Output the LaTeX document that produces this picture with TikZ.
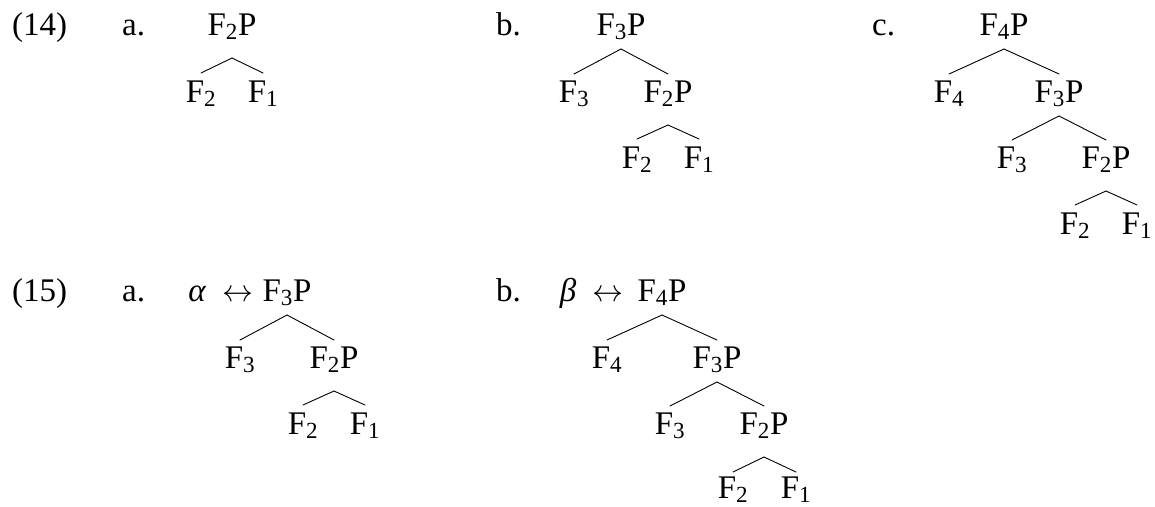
\documentclass[tikz,border=0pt]{standalone}
\usepackage{fontspec}
\setmainfont{Liberation Serif}
\usepackage{fix-cm}
\begin{document}
\begin{tikzpicture}[x=1pt,y=-1pt,
  tn/.style={inner sep=0pt, anchor=base, font=\fontsize{33}{40}\selectfont},
  lb/.style={inner sep=0pt, anchor=base west, font=\fontsize{33}{40}\selectfont},
  br/.style={line width=0.9pt, line cap=round}]
\useasboundingbox (0,0) rectangle (1155,506);
% ---------- (14)
\node[lb] (n14) at (12,35) {(14)};
\node[lb] (la) at (122,35) {a.};
\node[tn] (a0) at (232,35) {F\textsubscript{2}P};
\node[tn] (a1) at (201,102) {F\textsubscript{2}};
\node[tn] (a2) at (263,102) {F\textsubscript{1}};
\draw[br] ([yshift=-23pt]a0.base) -- ([yshift=29pt]a1.base);
\draw[br] ([yshift=-23pt]a0.base) -- ([yshift=29pt]a2.base);
% b
\node[lb] (lb1) at (496,35) {b.};
\node[tn] (b0) at (621,35) {F\textsubscript{3}P};
\node[tn] (b1) at (574,102) {F\textsubscript{3}};
\node[tn] (b2) at (668,102) {F\textsubscript{2}P};
\node[tn] (b3) at (637,168) {F\textsubscript{2}};
\node[tn] (b4) at (699,168) {F\textsubscript{1}};
\draw[br] ([yshift=-14pt]b0.base) -- ([yshift=28pt]b1.base);
\draw[br] ([yshift=-14pt]b0.base) -- ([yshift=28pt]b2.base);
\draw[br] ([yshift=-23pt]b2.base) -- ([yshift=29pt]b3.base);
\draw[br] ([yshift=-23pt]b2.base) -- ([yshift=29pt]b4.base);
% c
\node[lb] (lc) at (872,35) {c.};
\node[tn] (c0) at (1004,35) {F\textsubscript{4}P};
\node[tn] (c1) at (949,102) {F\textsubscript{4}};
\node[tn] (c2) at (1059,102) {F\textsubscript{3}P};
\node[tn] (c3) at (1012,168) {F\textsubscript{3}};
\node[tn] (c4) at (1106,168) {F\textsubscript{2}P};
\node[tn] (c5) at (1075,234) {F\textsubscript{2}};
\node[tn] (c6) at (1137,234) {F\textsubscript{1}};
\draw[br] ([yshift=-14pt]c0.base) -- ([yshift=28pt]c1.base);
\draw[br] ([yshift=-14pt]c0.base) -- ([yshift=28pt]c2.base);
\draw[br] ([yshift=-14pt]c2.base) -- ([yshift=28pt]c3.base);
\draw[br] ([yshift=-14pt]c2.base) -- ([yshift=28pt]c4.base);
\draw[br] ([yshift=-23pt]c4.base) -- ([yshift=29pt]c5.base);
\draw[br] ([yshift=-23pt]c4.base) -- ([yshift=29pt]c6.base);
% ---------- (15)
\node[lb] (n15) at (12,301) {(15)};
\node[lb] (la2) at (122,301) {a.};
\node[tn] (alp) at (197,301) {\itshape α};
\node[tn] (ar1) at (238,301) {\fontsize{31}{34}\selectfont$\leftrightarrow$};
\node[tn] (d0) at (287,301) {F\textsubscript{3}P};
\node[tn] (d1) at (240,368) {F\textsubscript{3}};
\node[tn] (d2) at (334,368) {F\textsubscript{2}P};
\node[tn] (d3) at (303,434) {F\textsubscript{2}};
\node[tn] (d4) at (365,434) {F\textsubscript{1}};
\draw[br] ([yshift=-14pt]d0.base) -- ([yshift=28pt]d1.base);
\draw[br] ([yshift=-14pt]d0.base) -- ([yshift=28pt]d2.base);
\draw[br] ([yshift=-23pt]d2.base) -- ([yshift=29pt]d3.base);
\draw[br] ([yshift=-23pt]d2.base) -- ([yshift=29pt]d4.base);
% b
\node[lb] (lb2) at (496,301) {b.};
\node[tn] (bet) at (568,301) {\itshape β};
\node[tn] (ar2) at (608,301) {\fontsize{31}{34}\selectfont$\leftrightarrow$};
\node[tn] (e0) at (662,301) {F\textsubscript{4}P};
\node[tn] (e1) at (607,368) {F\textsubscript{4}};
\node[tn] (e2) at (717,368) {F\textsubscript{3}P};
\node[tn] (e3) at (670,434) {F\textsubscript{3}};
\node[tn] (e4) at (764,434) {F\textsubscript{2}P};
\node[tn] (e5) at (733,498) {F\textsubscript{2}};
\node[tn] (e6) at (796,498) {F\textsubscript{1}};
\draw[br] ([yshift=-14pt]e0.base) -- ([yshift=28pt]e1.base);
\draw[br] ([yshift=-14pt]e0.base) -- ([yshift=28pt]e2.base);
\draw[br] ([yshift=-14pt]e2.base) -- ([yshift=28pt]e3.base);
\draw[br] ([yshift=-14pt]e2.base) -- ([yshift=28pt]e4.base);
\draw[br] ([yshift=-23pt]e4.base) -- ([yshift=26pt]e5.base);
\draw[br] ([yshift=-23pt]e4.base) -- ([yshift=26pt]e6.base);
\end{tikzpicture}
\end{document}
